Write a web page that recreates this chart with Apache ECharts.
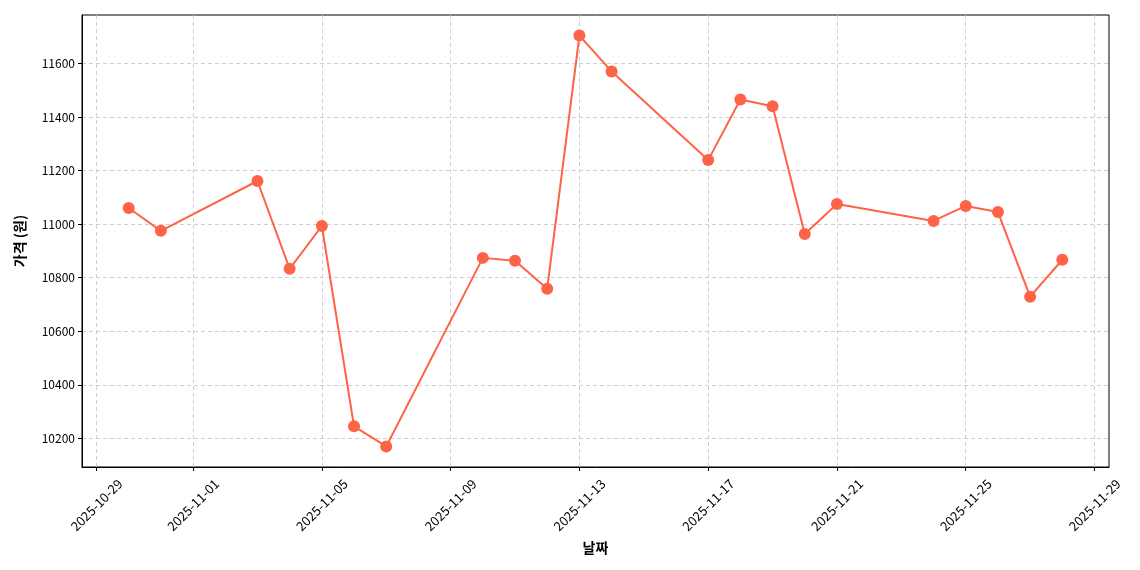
<!DOCTYPE html>
<html>
<head>
<meta charset="utf-8">
<script src="https://cdn.jsdelivr.net/npm/echarts@6/dist/echarts.min.js"></script>
<style>html,body{margin:0;padding:0;background:#fff}#c{width:1140px;height:570px}</style>
</head>
<body>
<div id="c"></div>
<script>
const dates = ['2025-10-30','2025-10-31','2025-11-03','2025-11-04','2025-11-05','2025-11-06','2025-11-07',
  '2025-11-10','2025-11-11','2025-11-12','2025-11-13','2025-11-14','2025-11-17','2025-11-18','2025-11-19',
  '2025-11-20','2025-11-21','2025-11-24','2025-11-25','2025-11-26','2025-11-27','2025-11-28'];
const prices = [11060,10975,11161,10833,10993,10245,10170,
  10874,10863,10759,11704,11570,11239,11465,11440,
  10963,11075,11012,11068,11045,10729,10867];
const xTickDates = ['2025-10-29','2025-11-01','2025-11-05','2025-11-09','2025-11-13','2025-11-17','2025-11-21','2025-11-25','2025-11-29'];
const yTicks = [10200,10400,10600,10800,11000,11200,11400,11600];

const DAY = 86400000;
const toDay = s => Date.UTC(+s.slice(0,4), +s.slice(5,7)-1, +s.slice(8,10)) / DAY;
const dayToStr = d => new Date(Math.round(d)*DAY).toISOString().slice(0,10);
const xs = dates.map(toDay);
const xMin = Math.min(...xs), xMax = Math.max(...xs);
const xPad = (xMax - xMin) * 0.05;
const yMin0 = Math.min(...prices), yMax0 = Math.max(...prices);
const yPad = (yMax0 - yMin0) * 0.05;
const xTicks = xTickDates.map(toDay);

const font = '"Noto Sans CJK KR", "Noto Sans", sans-serif';
const gridLine = {show:true, lineStyle:{color:'#c4c4c4', type:[4,3], width:0.8}};

const chart = echarts.init(document.getElementById('c'), null, {renderer:'canvas'});
chart.setOption({
  animation:false,
  grid:{left:82, right:31, top:15, bottom:103, show:true, borderColor:'#000', borderWidth:1, backgroundColor:'transparent'},
  xAxis:{
    type:'value', min:xMin - xPad, max:xMax + xPad,
    name:'날짜', nameLocation:'middle', nameGap:73,
    nameTextStyle:{fontFamily:font, fontWeight:'bold', fontSize:14, color:'#000'},
    axisLine:{show:true, onZero:false, lineStyle:{color:'#000', width:1}},
    axisTick:{show:true, length:4, customValues:xTicks, lineStyle:{color:'#000'}},
    axisLabel:{customValues:xTicks, rotate:45, margin:38, align:'center', verticalAlign:'middle',
      fontFamily:font, fontSize:13, color:'#000',
      formatter:v => dayToStr(v)},
    splitLine:gridLine
  },
  yAxis:{
    type:'value', min:yMin0 - yPad, max:yMax0 + yPad,
    name:'가격 (원)', nameLocation:'middle', nameGap:55,
    nameTextStyle:{fontFamily:font, fontWeight:'bold', fontSize:14, color:'#000'},
    axisLine:{show:true, lineStyle:{color:'#000', width:1}},
    axisTick:{show:true, length:4, customValues:yTicks, lineStyle:{color:'#000'}},
    axisLabel:{customValues:yTicks, margin:7, fontFamily:font, fontSize:12, color:'#000',
      formatter:v => String(Math.round(v))},
    splitLine:gridLine
  },
  series:[{
    type:'line',
    data:xs.map((x,i)=>[x,prices[i]]),
    symbol:'circle', symbolSize:12,
    itemStyle:{color:'#FF6347'},
    lineStyle:{color:'#FF6347', width:2},
    z:3
  }]
});
</script>
</body>
</html>
